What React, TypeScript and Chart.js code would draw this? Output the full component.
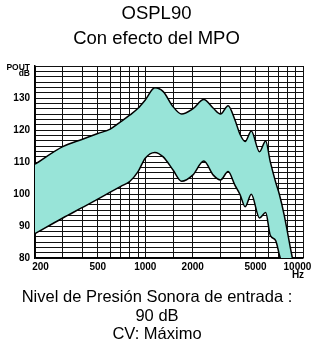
import { useEffect, useRef } from 'react';
import { Chart, registerables } from 'chart.js';

Chart.register(...registerables);

const FONT = "'Liberation Sans', Arial, Helvetica, sans-serif";
const TICK_FONT = "'Liberation Sans', Arial, Helvetica, sans-serif";

const titleLines = ['OSPL90', 'Con efecto del MPO'];
const footerLines = ['Nivel de Presión Sonora de entrada :', '90 dB', 'CV: Máximo'];
const yAxisTitle = ['POUT', 'dB'];
const xAxisUnit = 'Hz';

// Frequency (Hz) sample points and curve levels (dB)
const freqs = [200, 300, 400, 500, 600, 700, 800, 900, 1000, 1150, 1300, 1500, 1700, 2000, 2350, 2700, 3000, 3350, 3700, 4000, 4300, 4700, 5300, 5800, 6200, 6700, 7100, 7600, 8500, 9000];
const upper = [109.3, 114.8, 117.1, 118.9, 120.3, 122.6, 124.7, 126.8, 129.4, 133.2, 132.0, 127.3, 125.0, 126.6, 129.5, 126.8, 125.0, 127.6, 123.2, 118.5, 116.4, 119.7, 113.2, 116.6, 110.1, 103.8, 99.7, 93.4, 80.8, 75];
const lower = [87.6, 92.5, 95.8, 98.4, 100.6, 102.4, 104.0, 107.0, 111.2, 113.0, 111.6, 107.5, 104.0, 105.9, 110.3, 105.9, 104.4, 107.0, 102.8, 99.7, 96.0, 99.9, 92.5, 94.2, 87.1, 85.5, 80.8, 76, 70, 68];

const xGrid = [200, 300, 400, 500, 600, 700, 800, 900, 1000, 1500, 2000, 3000, 4000, 5000, 6000, 7000, 8000, 9000, 10000];
const xTickLabels = [200, 500, 1000, 2000, 5000, 10000];
const yTickLabels = [80, 90, 100, 110, 120, 130];
const yMin = 80;
const yMax = 140;
const yDivisions = 36;

const NB = '\u00a0';

export default function App() {
  const ref = useRef<HTMLCanvasElement | null>(null);

  useEffect(() => {
    const canvas = ref.current;
    if (!canvas) return;

    const textPlugin = {
      id: 'texts',
      afterDraw(chart: any) {
        const ctx = chart.ctx;
        ctx.save();
        ctx.fillStyle = '#000';
        ctx.textAlign = 'center';
        ctx.textBaseline = 'middle';
        ctx.font = `18.5px ${FONT}`;
        ctx.fillText(titleLines[0], 156.5, 13.5);
        ctx.fillText(titleLines[1], 156.5, 38.5);
        ctx.font = `16.5px ${FONT}`;
        ctx.fillText(footerLines[0], 157, 297);
        ctx.fillText(footerLines[1], 157, 316);
        ctx.fillText(footerLines[2], 157, 334);
        ctx.font = `bold 8.5px ${TICK_FONT}`;
        ctx.textAlign = 'right';
        ctx.fillText(yAxisTitle[0], 30, 67.5);
        ctx.fillText(yAxisTitle[1], 30, 74);
        ctx.textAlign = 'center';
        ctx.font = `bold 10px ${TICK_FONT}`;
        ctx.fillText(xAxisUnit, 298, 275.5);
        ctx.restore();
      },
    };

    const chart = new Chart(canvas, {
      type: 'line',
      data: {
        datasets: [
          {
            data: freqs.map((f, i) => ({ x: f, y: upper[i] })),
            borderColor: '#000',
            borderWidth: 1.5,
            pointRadius: 0,
            fill: false,
            cubicInterpolationMode: 'monotone',
          },
          {
            data: freqs.map((f, i) => ({ x: f, y: lower[i] })),
            borderColor: '#000',
            borderWidth: 1.5,
            pointRadius: 0,
            fill: '-1',
            backgroundColor: '#98e4d8',
            cubicInterpolationMode: 'monotone',
          },
        ],
      },
      options: {
        responsive: false,
        animation: false,
        events: [],
        layout: { padding: { top: 66, right: 10, bottom: 0, left: 0 } },
        plugins: {
          legend: { display: false },
          title: { display: false },
          tooltip: { enabled: false },
        },
        scales: {
          x: {
            type: 'logarithmic',
            min: 200,
            max: 10000,
            z: 1,
            afterBuildTicks: (scale: any) => {
              scale.ticks = xGrid.map((v) => ({ value: v }));
            },
            afterFit: (scale: any) => {
              scale.height = 94;
              scale.paddingLeft = 0;
              scale.paddingRight = 0;
            },
            grid: { color: '#111', lineWidth: 1, drawTicks: false },
            border: { display: true, color: '#000', width: 1.5 },
            ticks: {
              autoSkip: false,
              maxRotation: 0,
              minRotation: 0,
              padding: 3,
              color: '#000',
              font: { family: TICK_FONT, size: 10, weight: 'bold' },
              callback: (value: any) => {
                const v = Number(value);
                if (!xTickLabels.includes(v)) return '';
                if (v === xTickLabels[0]) return NB + NB + NB + NB + String(v);
                if (v === xTickLabels[xTickLabels.length - 1]) return String(v) + NB + NB + NB + NB;
                return String(v);
              },
            },
          },
          y: {
            type: 'linear',
            min: yMin,
            max: yMax,
            z: 1,
            afterBuildTicks: (scale: any) => {
              const t = [];
              for (let k = 0; k <= yDivisions; k++) t.push({ value: yMin + (k * (yMax - yMin)) / yDivisions });
              scale.ticks = t;
            },
            afterFit: (scale: any) => {
              scale.width = 35;
              scale.paddingTop = 0;
              scale.paddingBottom = 0;
            },
            grid: { color: '#111', lineWidth: 1, drawTicks: false },
            border: { display: true, color: '#000', width: 1.5 },
            ticks: {
              autoSkip: false,
              padding: 5,
              color: '#000',
              font: { family: TICK_FONT, size: 10, weight: 'bold' },
              callback: (value: any) => {
                const v = Number(value);
                const hit = yTickLabels.find((l) => Math.abs(l - v) < 1e-6);
                return hit !== undefined ? String(hit) : '';
              },
            },
          },
        },
      },
      plugins: [textPlugin],
    } as any);

    return () => chart.destroy();
  }, []);

  return (
    <canvas
      ref={ref}
      width={313}
      height={352}
      style={{ position: 'fixed', left: 0, top: 0, width: 313, height: 352, display: 'block' }}
    />
  );
}
